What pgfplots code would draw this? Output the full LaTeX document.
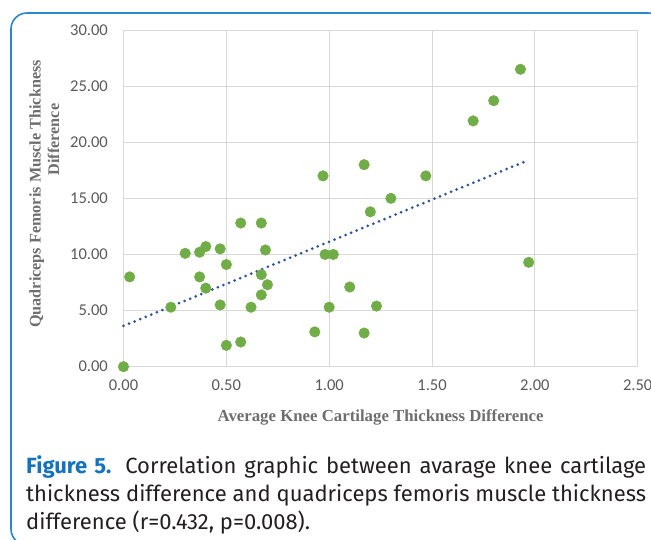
\documentclass[border=0pt]{standalone}
\usepackage{fontspec}
\usepackage{pgfplots}
\pgfplotsset{compat=1.18}
\newfontfamily\carlito{Carlito}
\newfontfamily\tnr{Liberation Serif}
\newfontfamily\fira{Fira Sans}
\definecolor{ptgreen}{RGB}{112,173,71}
\definecolor{trendblue}{RGB}{47,85,151}
\definecolor{gridgray}{RGB}{217,217,217}
\definecolor{tickgray}{RGB}{89,89,89}
\definecolor{labelgray}{RGB}{110,110,110}
\definecolor{frameblue}{RGB}{40,135,205}
\definecolor{figblue}{RGB}{20,115,190}
\definecolor{captext}{RGB}{35,31,32}
\begin{document}
\begin{tikzpicture}[x=1pt,y=1pt]
\useasboundingbox (0,0) rectangle (651,540);
\draw[frameblue, line width=1.6pt, rounded corners=16pt] (11,527) rectangle (664,-5);
\begin{axis}[at={(123.5pt,173.3pt)}, anchor=south west, scale only axis,
 width=514.2pt, height=336.7pt,
 xmin=0,xmax=2.5,ymin=0,ymax=30,
 xtick={0,0.5,1,1.5,2,2.5}, ytick={0,5,10,15,20,25,30},
 grid=major, major grid style={gridgray, line width=0.9pt},
 axis line style={gridgray, line width=0.9pt},
 major tick length=0pt,
 /pgf/number format/.cd, fixed, fixed zerofill, precision=2, assume math mode=true, /pgfplots/.cd,
 tick label style={font=\carlito\fontsize{16.5}{18}\selectfont, text=tickgray, inner sep=0pt},
 xticklabel style={anchor=north, yshift=-13pt},
 yticklabel style={anchor=east, xshift=-15.5pt},
 clip=false,
]
\addplot[only marks, mark=*, mark size=5.3pt, color=ptgreen, mark options={fill=ptgreen, draw=ptgreen}] coordinates {
(0,0) (0.03,8.0) (0.23,5.3) (0.30,10.1) (0.37,10.2) (0.40,10.7) (0.37,8.0) (0.40,7.0)
(0.47,10.5) (0.50,9.1) (0.47,5.5) (0.50,1.9) (0.57,2.2) (0.57,12.8) (0.67,12.8) (0.69,10.4)
(0.67,8.2) (0.70,7.3) (0.67,6.4) (0.62,5.3) (0.93,3.1) (0.98,10.0) (1.02,10.0) (1.00,5.3)
(1.10,7.1) (1.17,3.0) (1.23,5.4) (1.20,13.8) (0.97,17.0) (1.17,18.0) (1.30,15.0) (1.47,17.0)
(1.70,21.9) (1.80,23.7) (1.93,26.5) (1.97,9.3)
};
\addplot[trendblue, line width=3pt, line cap=round, dash pattern=on 0pt off 6pt] coordinates {(0,3.63) (1.955,18.3)};
\end{axis}
\node[rotate=90, anchor=base, inner sep=0pt, font=\tnr\bfseries\fontsize{16.2}{18}\selectfont, text=labelgray] at (40.5,346) {Quadriceps Femoris Muscle Thickness};
\node[rotate=90, anchor=base, inner sep=0pt, font=\tnr\bfseries\fontsize{16.2}{18}\selectfont, text=labelgray] at (59,400.5) {Difference};
\node[anchor=base, inner sep=0pt, font=\tnr\bfseries\fontsize{16.8}{18}\selectfont, text=labelgray] at (380.6,118.5) {Average Knee Cartilage Thickness Difference};
\node[anchor=north west, inner sep=0pt, align=left, font=\fira\fontsize{22}{28}\selectfont, text=captext] at (26,85) {\makebox[620pt][s]{{\bfseries\color{figblue}Figure 5.} Correlation graphic between avarage knee cartilage}\\
\makebox[620pt][s]{thickness difference and quadriceps femoris muscle thickness}\\
difference (r=0.432, p=0.008).};
\end{tikzpicture}
\end{document}
